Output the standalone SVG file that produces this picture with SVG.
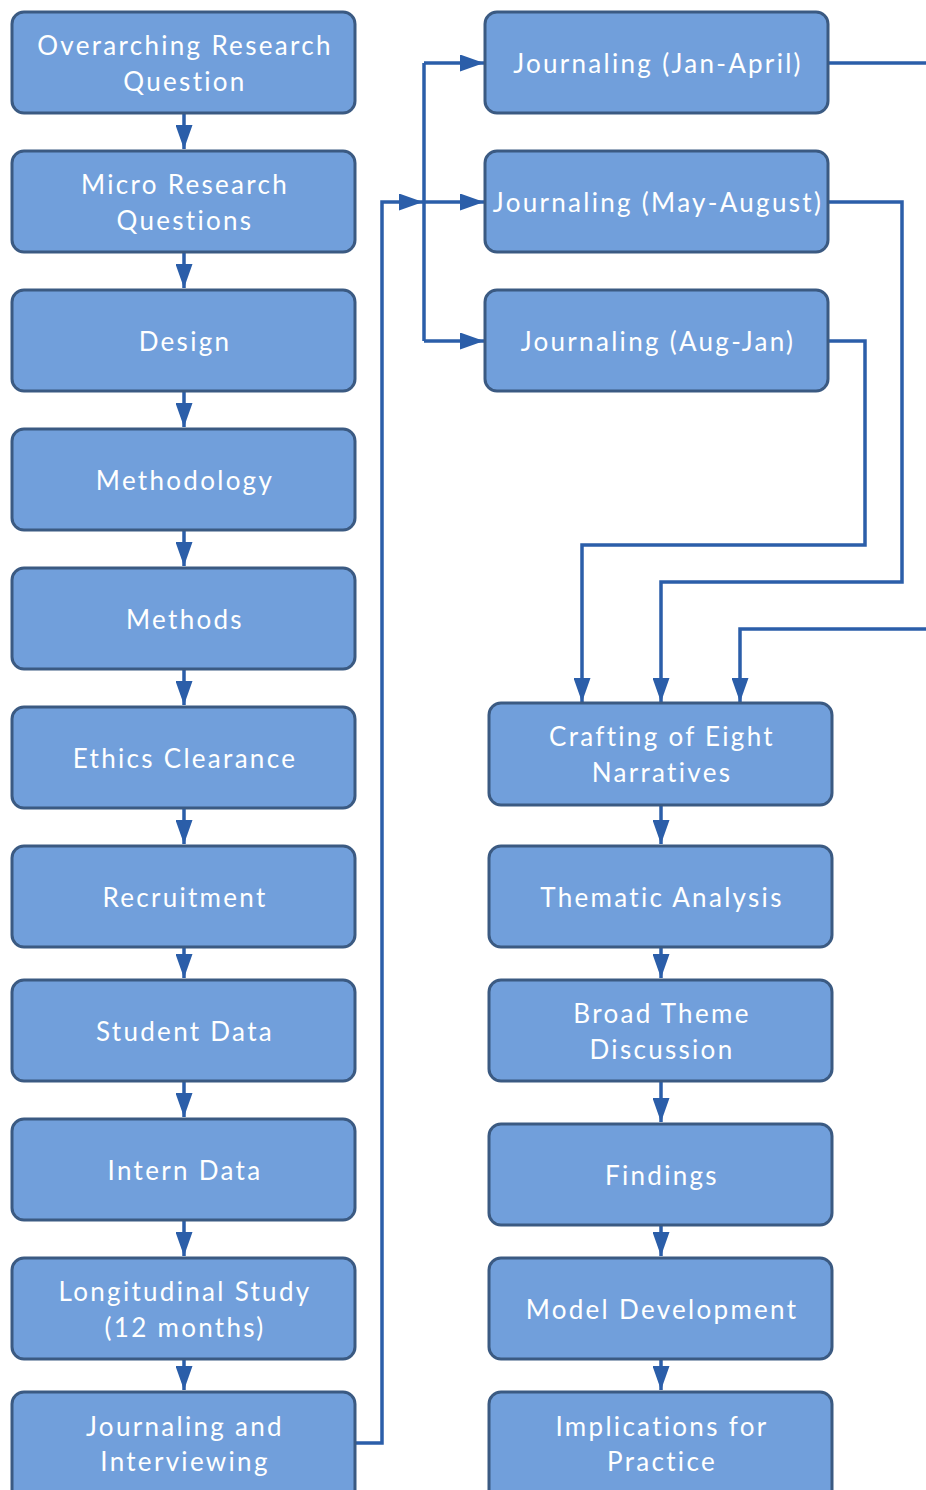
<svg xmlns="http://www.w3.org/2000/svg" width="926" height="1490" viewBox="0 0 926 1490">
  <style>
    .box { fill: #719fdb; stroke: #3b5a82; stroke-width: 3; }
    .lbl { fill: #ffffff; font-family: Lato, "Open Sans", "Liberation Sans", sans-serif; font-size: 26px; letter-spacing: 2.3px; text-anchor: middle; }
    .wire { fill: none; stroke: #2b5ea9; stroke-width: 3.5; stroke-linejoin: miter; }
  </style>
  <defs>
    <marker id="head" viewBox="0 0 24 17" refX="24" refY="8.5" markerWidth="24" markerHeight="17" markerUnits="userSpaceOnUse" orient="auto">
      <path d="M0,0 L24,8.5 L0,17 Z" fill="#2b5ea9"/>
    </marker>
  </defs>

  <!-- connectors -->
  <g id="connectors" class="wire">
    <!-- left column chain -->
    <path d="M184,113 V149" marker-end="url(#head)"/>
    <path d="M184,252 V288" marker-end="url(#head)"/>
    <path d="M184,391 V427" marker-end="url(#head)"/>
    <path d="M184,530 V566" marker-end="url(#head)"/>
    <path d="M184,669 V705" marker-end="url(#head)"/>
    <path d="M184,808 V844" marker-end="url(#head)"/>
    <path d="M184,947 V978" marker-end="url(#head)"/>
    <path d="M184,1081 V1117" marker-end="url(#head)"/>
    <path d="M184,1220 V1256" marker-end="url(#head)"/>
    <path d="M184,1359 V1390" marker-end="url(#head)"/>
    <!-- journaling and interviewing feeds the three journaling periods -->
    <path d="M355,1443 H382 V202 H423" marker-end="url(#head)"/>
    <path d="M424,63 V341"/>
    <path d="M424,63 H484" marker-end="url(#head)"/>
    <path d="M424,202 H484" marker-end="url(#head)"/>
    <path d="M424,341 H484" marker-end="url(#head)"/>
    <!-- journaling periods into the narratives -->
    <path d="M828,63 H930"/>
    <path d="M930,629 H740 V702" marker-end="url(#head)"/>
    <path d="M828,202 H902 V582 H661 V702" marker-end="url(#head)"/>
    <path d="M828,341 H865 V545 H582 V702" marker-end="url(#head)"/>
    <!-- right column chain -->
    <path d="M661,805 V844" marker-end="url(#head)"/>
    <path d="M661,947 V978" marker-end="url(#head)"/>
    <path d="M661,1081 V1122" marker-end="url(#head)"/>
    <path d="M661,1225 V1256" marker-end="url(#head)"/>
    <path d="M661,1359 V1390" marker-end="url(#head)"/>
  </g>

  <!-- left column -->
  <g id="overarching-question">
    <rect class="box" x="12" y="12" width="343" height="101" rx="12"/>
    <text class="lbl" x="185" y="55">Overarching Research</text>
    <text class="lbl" x="185" y="91">Question</text>
  </g>
  <g id="micro-questions">
    <rect class="box" x="12" y="151" width="343" height="101" rx="12"/>
    <text class="lbl" x="185" y="194">Micro Research</text>
    <text class="lbl" x="185" y="230">Questions</text>
  </g>
  <g id="design">
    <rect class="box" x="12" y="290" width="343" height="101" rx="12"/>
    <text class="lbl" x="185" y="351">Design</text>
  </g>
  <g id="methodology">
    <rect class="box" x="12" y="429" width="343" height="101" rx="12"/>
    <text class="lbl" x="185" y="490">Methodology</text>
  </g>
  <g id="methods">
    <rect class="box" x="12" y="568" width="343" height="101" rx="12"/>
    <text class="lbl" x="185" y="629">Methods</text>
  </g>
  <g id="ethics">
    <rect class="box" x="12" y="707" width="343" height="101" rx="12"/>
    <text class="lbl" x="185" y="768">Ethics Clearance</text>
  </g>
  <g id="recruitment">
    <rect class="box" x="12" y="846" width="343" height="101" rx="12"/>
    <text class="lbl" x="185" y="907">Recruitment</text>
  </g>
  <g id="student-data">
    <rect class="box" x="12" y="980" width="343" height="101" rx="12"/>
    <text class="lbl" x="185" y="1041">Student Data</text>
  </g>
  <g id="intern-data">
    <rect class="box" x="12" y="1119" width="343" height="101" rx="12"/>
    <text class="lbl" x="185" y="1180">Intern Data</text>
  </g>
  <g id="longitudinal">
    <rect class="box" x="12" y="1258" width="343" height="101" rx="12"/>
    <text class="lbl" x="185" y="1301">Longitudinal Study</text>
    <text class="lbl" x="185" y="1337">(12 months)</text>
  </g>
  <g id="journaling-interviewing">
    <rect class="box" x="12" y="1392" width="343" height="110" rx="12"/>
    <text class="lbl" x="185" y="1436">Journaling and</text>
    <text class="lbl" x="185" y="1471">Interviewing</text>
  </g>

  <!-- journaling periods -->
  <g id="journaling-jan-april">
    <rect class="box" x="485" y="12" width="343" height="101" rx="12"/>
    <text class="lbl" x="658" y="73">Journaling (Jan-April)</text>
  </g>
  <g id="journaling-may-august">
    <rect class="box" x="485" y="151" width="343" height="101" rx="12"/>
    <text class="lbl" x="658" y="212">Journaling (May-August)</text>
  </g>
  <g id="journaling-aug-jan">
    <rect class="box" x="485" y="290" width="343" height="101" rx="12"/>
    <text class="lbl" x="658" y="351">Journaling (Aug-Jan)</text>
  </g>

  <!-- right column -->
  <g id="eight-narratives">
    <rect class="box" x="489" y="703" width="343" height="102" rx="12"/>
    <text class="lbl" x="662" y="746">Crafting of Eight</text>
    <text class="lbl" x="662" y="782">Narratives</text>
  </g>
  <g id="thematic-analysis">
    <rect class="box" x="489" y="846" width="343" height="101" rx="12"/>
    <text class="lbl" x="662" y="907">Thematic Analysis</text>
  </g>
  <g id="broad-theme">
    <rect class="box" x="489" y="980" width="343" height="101" rx="12"/>
    <text class="lbl" x="662" y="1023">Broad Theme</text>
    <text class="lbl" x="662" y="1059">Discussion</text>
  </g>
  <g id="findings">
    <rect class="box" x="489" y="1124" width="343" height="101" rx="12"/>
    <text class="lbl" x="662" y="1185">Findings</text>
  </g>
  <g id="model-development">
    <rect class="box" x="489" y="1258" width="343" height="101" rx="12"/>
    <text class="lbl" x="662" y="1319">Model Development</text>
  </g>
  <g id="implications">
    <rect class="box" x="489" y="1392" width="343" height="110" rx="12"/>
    <text class="lbl" x="662" y="1436">Implications for</text>
    <text class="lbl" x="662" y="1471">Practice</text>
  </g>
</svg>
